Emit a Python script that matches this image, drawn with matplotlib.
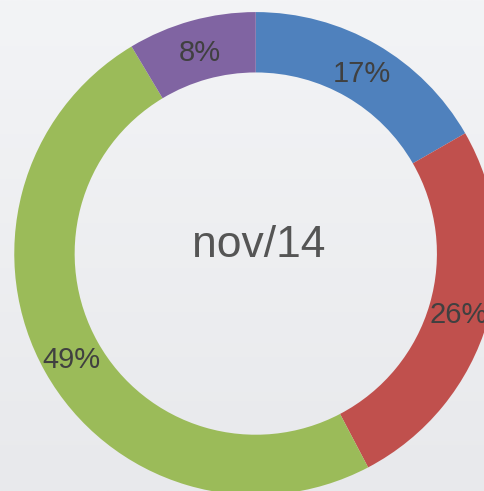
import numpy as np
import matplotlib.pyplot as plt

# share per category, labels as printed on the chart
values = [16.7, 25.6, 49.1, 8.6]
pct_labels = ["17%", "26%", "49%", "8%"]
colors = ["#4f81bd", "#c0504d", "#9bbb59", "#8064a2"]
center_label = "nov/14"

plt.rcParams["font.family"] = ["Liberation Sans", "DejaVu Sans"]

fig = plt.figure(figsize=(4.85, 4.91), dpi=100)

# soft grey background gradient
bg = fig.add_axes([0, 0, 1, 1])
grad = np.linspace(0, 1, 256).reshape(-1, 1)
bg.imshow(grad, aspect="auto", cmap=plt.matplotlib.colors.LinearSegmentedColormap.from_list(
    "bg", ["#f3f4f6", "#e8e9ec"]), extent=[0, 1, 0, 1])
bg.axis("off")

ax = fig.add_axes([0, 0, 1, 1])
ax.patch.set_alpha(0)
wedges, _ = ax.pie(
    values,
    colors=colors,
    startangle=90,
    counterclock=False,
    radius=1,
    wedgeprops=dict(width=0.25, edgecolor="none"),
)

for w, lab in zip(wedges, pct_labels):
    ang = np.deg2rad((w.theta1 + w.theta2) / 2)
    ax.text(0.874 * np.cos(ang), 0.874 * np.sin(ang) - 0.012, lab,
            ha="center", va="center", fontsize=21, color="#404040")

ax.text(0.012, -0.014, center_label, ha="center", va="baseline",
        fontsize=32, color="#555555")

ax.set_xlim(-1.059, 0.949)
ax.set_ylim(-0.983, 1.050)
ax.set_aspect("equal")
ax.axis("off")

fig.savefig("out.png", dpi=100)
